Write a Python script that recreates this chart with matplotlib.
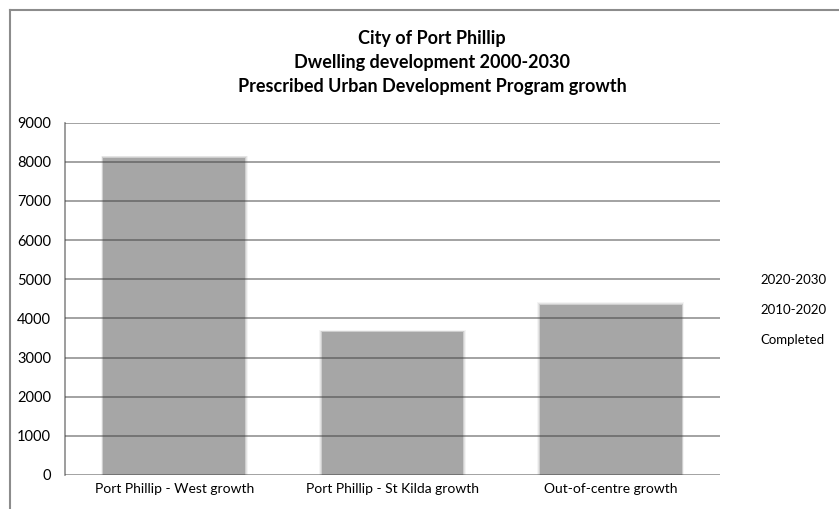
import matplotlib.pyplot as plt
from matplotlib.lines import Line2D
import numpy as np

# data (segment split is not readable - all three series are the same grey)
categories = ["Port Phillip - West growth", "Port Phillip - St Kilda growth",
              "Out-of-centre growth"]
series_names = ["Completed", "2010-2020", "2020-2030"]
completed = [3300, 1650, 1650]
dev_2010_2020 = [2700, 1100, 1500]
dev_2020_2030 = [2100, 900, 1200]
yticks = [0, 1000, 2000, 3000, 4000, 5000, 6000, 7000, 8000, 9000]
title = "City of Port Phillip\nDwelling development 2000-2030\nPrescribed Urban Development Program growth"

plt.rcParams['font.family'] = ['Lato', 'DejaVu Sans']

fig = plt.figure(figsize=(8.39, 5.09), dpi=100)
ax = fig.add_axes([65 / 839, 1 - 475 / 509, 655 / 839, (475 - 122.7) / 509])

x = np.arange(len(categories))
bar_w = 0.65
grey = "#a6a6a6"

# soft edge round the bars (the original looks blurred)
stack_top = np.array(completed) + np.array(dev_2010_2020) + np.array(dev_2020_2030)
for k, dh, a in zip([0.022, 0.014, 0.007], [60, 40, 20], [0.12, 0.2, 0.35]):
    ax.bar(x, stack_top + dh, width=bar_w + k, color=grey, alpha=a,
           linewidth=0, zorder=1)

bottom = np.zeros(len(categories))
for name, vals in zip(series_names, [completed, dev_2010_2020, dev_2020_2030]):
    ax.bar(x, vals, width=bar_w, bottom=bottom, color=grey, linewidth=0,
           label=name, zorder=2)
    bottom += np.array(vals)

# grid drawn over the bars, semi transparent so it darkens over them
for v in yticks:
    ax.axhline(v, color="#3a3a3a", alpha=0.55, linewidth=1.2, zorder=3)

ax.set_xlim(-0.5, 2.5)
ax.set_ylim(0, 9000)
ax.set_yticks(yticks)
ax.set_yticklabels([str(v) for v in yticks], fontsize=10.5)
ax.set_xticks(x)
ax.set_xticklabels(categories, fontsize=10)
ax.tick_params(axis="y", length=0, pad=10)
ax.tick_params(axis="x", length=0, pad=6)
for s in ["top", "right", "bottom"]:
    ax.spines[s].set_visible(False)
ax.spines["left"].set_color("#8c8c8c")
ax.spines["left"].set_linewidth(1.2)

fig.text(432 / 839, 1 - 30 / 509, title, ha="center", va="top", fontsize=13,
         fontweight="bold", linespacing=1.5)

# legend is text only
for name, yy in zip(["2020-2030", "2010-2020", "Completed"], [280, 310, 340]):
    fig.text(760 / 839, 1 - yy / 509, name, ha="left", va="center", fontsize=9.5)

# outer chart frame
fig.add_artist(Line2D([9.5 / 839, 9.5 / 839], [0, 1 - 10 / 509],
                      transform=fig.transFigure, color="#8c8c8c", linewidth=1.5))
fig.add_artist(Line2D([9.5 / 839, 1], [1 - 10 / 509, 1 - 10 / 509],
                      transform=fig.transFigure, color="#8c8c8c", linewidth=1.5))

fig.savefig("out.png", dpi=100)
